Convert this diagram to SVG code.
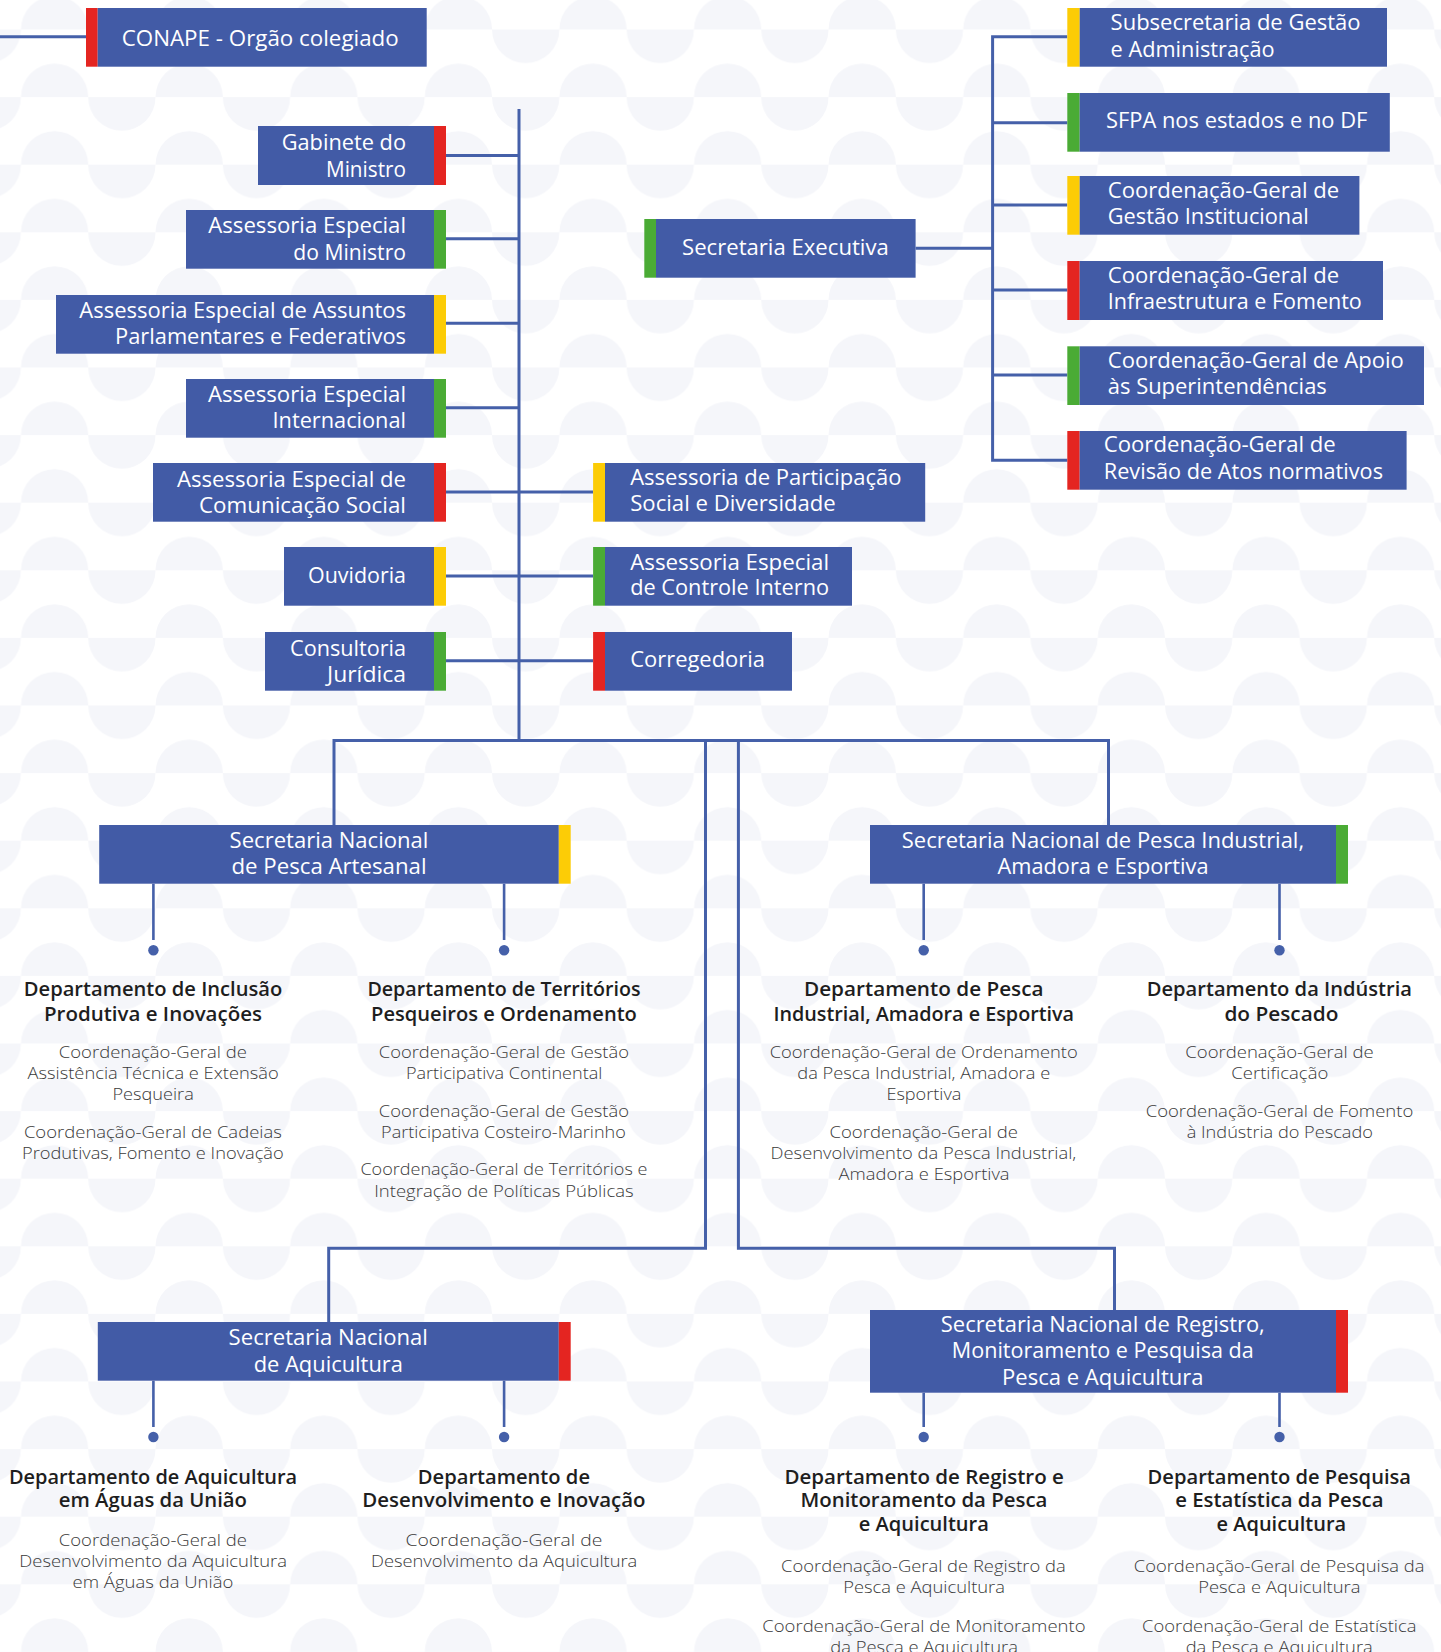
<svg xmlns="http://www.w3.org/2000/svg" width="1441" height="1652" viewBox="0 0 1441 1652">
<defs>
<style>
.box{fill:#425ba6}
.r{fill:#e42521}
.g{fill:#4aab35}
.y{fill:#fccc06}
.bt{font-family:"Open Sans","Liberation Sans",sans-serif;font-size:21.5px;font-weight:500;fill:#ffffff}
.dt{font-family:"Open Sans","Liberation Sans",sans-serif;font-size:20px;font-weight:600;fill:#1e1e1e}
.ct{font-family:"Open Sans","Liberation Sans",sans-serif;font-size:17px;font-weight:300;fill:#3a3a3a}
.ln{fill:none;stroke:#4560a9;stroke-width:3}
.dr{fill:none;stroke:#4560a9;stroke-width:2.6}
.dot{fill:#4560a9}
</style>
<!-- scalloped background: half-discs above and below each band line -->
<pattern id="bg" patternUnits="userSpaceOnUse" x="88.25" y="29.5" width="134.6" height="67.6">
<path d="M0,0 A33.65,33.65 0 0 0 67.3,0 Z" fill="#f5f6fa"/>
<path d="M67.3,67.6 A33.65,33.65 0 0 1 134.6,67.6 Z" fill="#f5f6fa"/>
</pattern>
</defs>
<rect width="1441" height="1652" fill="#ffffff"/>
<rect width="1441" height="1652" fill="url(#bg)"/>

<g id="connectors">
<path class="ln" d="M0,36.7 H86"/>
<path class="ln" d="M519,109 V740.5"/>
<path class="ln" d="M446,155.5 H519 M446,238.7 H519 M446,323.3 H519 M446,407.7 H519"/>
<path class="ln" d="M446,492 H593 M446,576 H593 M446,660.7 H593"/>
<path class="ln" d="M915.6,248.3 H992.6"/>
<path class="ln" d="M1067.3,36.7 H992.6 V460.3 H1067.3 M992.6,122.7 H1067.3 M992.6,205 H1067.3 M992.6,290 H1067.3 M992.6,375 H1067.3"/>
<path class="ln" d="M334,825 V740.5 H1108.5 V825"/>
<path class="ln" d="M705.5,740.5 V1248.3 H328.7 V1322"/>
<path class="ln" d="M738.4,740.5 V1248.3 H1114.5 V1310"/>
<path class="dr" d="M153.4,883.7 V940 M504.1,883.7 V940 M923.7,883.7 V940 M1279.5,883.7 V940"/>
<path class="dr" d="M153.4,1380.7 V1427 M504.1,1380.7 V1427 M923.7,1392.7 V1427 M1279.5,1392.7 V1427"/>
<circle class="dot" cx="153.4" cy="950.3" r="5.2"/>
<circle class="dot" cx="504.1" cy="950.3" r="5.2"/>
<circle class="dot" cx="923.7" cy="950.3" r="5.2"/>
<circle class="dot" cx="1279.5" cy="950.3" r="5.2"/>
<circle class="dot" cx="153.4" cy="1437" r="5.2"/>
<circle class="dot" cx="504.1" cy="1437" r="5.2"/>
<circle class="dot" cx="923.7" cy="1437" r="5.2"/>
<circle class="dot" cx="1279.5" cy="1437" r="5.2"/>
</g>

<g id="conape">
<rect class="r" x="86" y="8" width="11.7" height="58.7"/>
<rect class="box" x="97.7" y="8" width="329" height="58.7"/>
<text class="bt" x="121.7" y="45.7" textLength="277" lengthAdjust="spacingAndGlyphs" style="font-size:22.5px">CONAPE - Orgão colegiado</text>
</g>

<g id="gabinete">
<rect class="box" x="258" y="126" width="176" height="59"/>
<rect class="r" x="434" y="126" width="12" height="59"/>
<text class="bt" x="281.7" y="150" textLength="124.3" lengthAdjust="spacingAndGlyphs">Gabinete do</text>
<text class="bt" x="326" y="176.7" textLength="80" lengthAdjust="spacingAndGlyphs">Ministro</text>
</g>

<g id="assessoria-ministro">
<rect class="box" x="186" y="210" width="248" height="58.7"/>
<rect class="g" x="434" y="210" width="12" height="58.7"/>
<text class="bt" x="208.3" y="233.3" textLength="197.7" lengthAdjust="spacingAndGlyphs">Assessoria Especial</text>
<text class="bt" x="293.3" y="260" textLength="112.7" lengthAdjust="spacingAndGlyphs">do Ministro</text>
</g>

<g id="assessoria-parlamentares">
<rect class="box" x="56" y="295" width="378" height="58.7"/>
<rect class="y" x="434" y="295" width="12" height="58.7"/>
<text class="bt" x="79.3" y="318.3" textLength="326.7" lengthAdjust="spacingAndGlyphs">Assessoria Especial de Assuntos</text>
<text class="bt" x="115" y="344.3" textLength="291" lengthAdjust="spacingAndGlyphs">Parlamentares e Federativos</text>
</g>

<g id="assessoria-internacional">
<rect class="box" x="186" y="379" width="248" height="58.7"/>
<rect class="g" x="434" y="379" width="12" height="58.7"/>
<text class="bt" x="208" y="402.3" textLength="198" lengthAdjust="spacingAndGlyphs">Assessoria Especial</text>
<text class="bt" x="272.5" y="428.3" textLength="133.5" lengthAdjust="spacingAndGlyphs">Internacional</text>
</g>

<g id="assessoria-comunicacao">
<rect class="box" x="153" y="463" width="281" height="58.7"/>
<rect class="r" x="434" y="463" width="12" height="58.7"/>
<text class="bt" x="177" y="486.7" textLength="229" lengthAdjust="spacingAndGlyphs">Assessoria Especial de</text>
<text class="bt" x="199" y="512.7" textLength="207" lengthAdjust="spacingAndGlyphs">Comunicação Social</text>
</g>

<g id="ouvidoria">
<rect class="box" x="284" y="547" width="150" height="58.7"/>
<rect class="y" x="434" y="547" width="12" height="58.7"/>
<text class="bt" x="308" y="583.3" textLength="98" lengthAdjust="spacingAndGlyphs">Ouvidoria</text>
</g>

<g id="consultoria">
<rect class="box" x="265" y="632" width="169" height="58.7"/>
<rect class="g" x="434" y="632" width="12" height="58.7"/>
<text class="bt" x="290" y="655.7" textLength="116" lengthAdjust="spacingAndGlyphs">Consultoria</text>
<text class="bt" x="327" y="682.3" textLength="79" lengthAdjust="spacingAndGlyphs">Jurídica</text>
</g>

<g id="participacao">
<rect class="y" x="593.1" y="463" width="11.9" height="58.7"/>
<rect class="box" x="605" y="463" width="320.2" height="58.7"/>
<text class="bt" x="630.2" y="484.5" textLength="271.3" lengthAdjust="spacingAndGlyphs">Assessoria de Participação</text>
<text class="bt" x="630.2" y="510.7" textLength="205.6" lengthAdjust="spacingAndGlyphs">Social e Diversidade</text>
</g>

<g id="controle-interno">
<rect class="g" x="593.1" y="547" width="11.9" height="58.7"/>
<rect class="box" x="605" y="547" width="247" height="58.7"/>
<text class="bt" x="630.2" y="569.5" textLength="198.9" lengthAdjust="spacingAndGlyphs">Assessoria Especial</text>
<text class="bt" x="630.2" y="595" textLength="198.9" lengthAdjust="spacingAndGlyphs">de Controle Interno</text>
</g>

<g id="corregedoria">
<rect class="r" x="593.1" y="632" width="11.9" height="58.7"/>
<rect class="box" x="605" y="632" width="187" height="58.7"/>
<text class="bt" x="630.2" y="666.7" textLength="134.8" lengthAdjust="spacingAndGlyphs">Corregedoria</text>
</g>

<g id="secretaria-executiva">
<rect class="g" x="644.3" y="219" width="11.7" height="58.7"/>
<rect class="box" x="656" y="219" width="259.6" height="58.7"/>
<text class="bt" x="682" y="255" textLength="206.8" lengthAdjust="spacingAndGlyphs">Secretaria Executiva</text>
</g>

<g id="subsecretaria">
<rect class="y" x="1067.3" y="8" width="12.4" height="58.7"/>
<rect class="box" x="1079.7" y="8" width="307.3" height="58.7"/>
<text class="bt" x="1110.6" y="29.5" textLength="250" lengthAdjust="spacingAndGlyphs">Subsecretaria de Gestão</text>
<text class="bt" x="1110.6" y="56.5" textLength="164" lengthAdjust="spacingAndGlyphs">e Administração</text>
</g>

<g id="sfpa">
<rect class="g" x="1067.3" y="93" width="12.4" height="58.7"/>
<rect class="box" x="1079.7" y="93" width="310.1" height="58.7"/>
<text class="bt" x="1106" y="127.7" textLength="261.3" lengthAdjust="spacingAndGlyphs">SFPA nos estados e no DF</text>
</g>

<g id="cg-gestao-institucional">
<rect class="y" x="1067.3" y="176" width="12.4" height="58.7"/>
<rect class="box" x="1079.7" y="176" width="279.7" height="58.7"/>
<text class="bt" x="1107.8" y="197.7" textLength="231.4" lengthAdjust="spacingAndGlyphs">Coordenação-Geral de</text>
<text class="bt" x="1107.8" y="224.3" textLength="201" lengthAdjust="spacingAndGlyphs">Gestão Institucional</text>
</g>

<g id="cg-infraestrutura">
<rect class="r" x="1067.3" y="261" width="12.4" height="59"/>
<rect class="box" x="1079.7" y="261" width="303.3" height="59"/>
<text class="bt" x="1107.8" y="282.7" textLength="231.4" lengthAdjust="spacingAndGlyphs">Coordenação-Geral de</text>
<text class="bt" x="1107.8" y="309" textLength="254" lengthAdjust="spacingAndGlyphs">Infraestrutura e Fomento</text>
</g>

<g id="cg-apoio">
<rect class="g" x="1067.3" y="346.3" width="12.4" height="58.7"/>
<rect class="box" x="1079.7" y="346.3" width="344.3" height="58.7"/>
<text class="bt" x="1107.8" y="367.5" textLength="296" lengthAdjust="spacingAndGlyphs">Coordenação-Geral de Apoio</text>
<text class="bt" x="1107.8" y="394" textLength="219" lengthAdjust="spacingAndGlyphs">às Superintendências</text>
</g>

<g id="cg-revisao">
<rect class="r" x="1067.3" y="431" width="12.4" height="58.7"/>
<rect class="box" x="1079.7" y="431" width="326.9" height="58.7"/>
<text class="bt" x="1103.8" y="452" textLength="232" lengthAdjust="spacingAndGlyphs">Coordenação-Geral de</text>
<text class="bt" x="1103.8" y="479" textLength="279.2" lengthAdjust="spacingAndGlyphs">Revisão de Atos normativos</text>
</g>

<g id="sn-pesca-artesanal">
<rect class="box" x="99.2" y="825" width="459.6" height="58.7"/>
<rect class="y" x="558.8" y="825" width="11.9" height="58.7"/>
<text class="bt" x="229.6" y="847.7" textLength="198.8" lengthAdjust="spacingAndGlyphs">Secretaria Nacional</text>
<text class="bt" x="231.5" y="874" textLength="195" lengthAdjust="spacingAndGlyphs">de Pesca Artesanal</text>
</g>

<g id="dep-inclusao">
<text class="dt" x="23.8" y="996" textLength="258.5" lengthAdjust="spacingAndGlyphs">Departamento de Inclusão</text>
<text class="dt" x="44" y="1020.5" textLength="218" lengthAdjust="spacingAndGlyphs">Produtiva  e Inovações</text>
<text class="ct" x="58.8" y="1058" textLength="188.2" lengthAdjust="spacingAndGlyphs">Coordenação-Geral de</text>
<text class="ct" x="27.6" y="1079.2" textLength="251.1" lengthAdjust="spacingAndGlyphs">Assistência Técnica e Extensão</text>
<text class="ct" x="112.5" y="1100.2" textLength="81.3" lengthAdjust="spacingAndGlyphs">Pesqueira</text>
<text class="ct" x="23.9" y="1138" textLength="258" lengthAdjust="spacingAndGlyphs">Coordenação-Geral de Cadeias</text>
<text class="ct" x="22" y="1159.2" textLength="261.7" lengthAdjust="spacingAndGlyphs">Produtivas, Fomento e Inovação</text>
</g>

<g id="dep-territorios">
<text class="dt" x="367.4" y="996" textLength="273.2" lengthAdjust="spacingAndGlyphs">Departamento de Territórios</text>
<text class="dt" x="371.1" y="1020.5" textLength="265.8" lengthAdjust="spacingAndGlyphs">Pesqueiros e Ordenamento</text>
<text class="ct" x="378.8" y="1058" textLength="250.2" lengthAdjust="spacingAndGlyphs">Coordenação-Geral de Gestão</text>
<text class="ct" x="405.9" y="1079.2" textLength="196.5" lengthAdjust="spacingAndGlyphs">Participativa Continental</text>
<text class="ct" x="378.8" y="1117" textLength="250.2" lengthAdjust="spacingAndGlyphs">Coordenação-Geral de Gestão</text>
<text class="ct" x="381.1" y="1138.2" textLength="244.7" lengthAdjust="spacingAndGlyphs">Participativa Costeiro-Marinho</text>
<text class="ct" x="360.4" y="1175.3" textLength="287" lengthAdjust="spacingAndGlyphs">Coordenação-Geral de Territórios e</text>
<text class="ct" x="374.2" y="1196.7" textLength="259.4" lengthAdjust="spacingAndGlyphs">Integração de Políticas Públicas</text>
</g>

<g id="sn-pesca-industrial">
<rect class="box" x="870" y="825" width="466" height="58.7"/>
<rect class="g" x="1336" y="825" width="12" height="58.7"/>
<text class="bt" x="901.8" y="847.7" textLength="402.3" lengthAdjust="spacingAndGlyphs">Secretaria Nacional de Pesca Industrial,</text>
<text class="bt" x="997.5" y="874" textLength="211" lengthAdjust="spacingAndGlyphs">Amadora e Esportiva</text>
</g>

<g id="dep-pesca-industrial">
<text class="dt" x="804" y="996" textLength="239.5" lengthAdjust="spacingAndGlyphs">Departamento de  Pesca</text>
<text class="dt" x="773.4" y="1020.5" textLength="300.7" lengthAdjust="spacingAndGlyphs">Industrial, Amadora e Esportiva</text>
<text class="ct" x="769.7" y="1058" textLength="308" lengthAdjust="spacingAndGlyphs">Coordenação-Geral de Ordenamento</text>
<text class="ct" x="797.3" y="1079.2" textLength="252.9" lengthAdjust="spacingAndGlyphs">da Pesca Industrial, Amadora e</text>
<text class="ct" x="886.4" y="1100.2" textLength="75" lengthAdjust="spacingAndGlyphs">Esportiva</text>
<text class="ct" x="829.5" y="1138" textLength="188.5" lengthAdjust="spacingAndGlyphs">Coordenação-Geral de</text>
<text class="ct" x="770.6" y="1159.2" textLength="305.7" lengthAdjust="spacingAndGlyphs">Desenvolvimento da Pesca Industrial,</text>
<text class="ct" x="838.6" y="1180.2" textLength="171" lengthAdjust="spacingAndGlyphs">Amadora e Esportiva</text>
</g>

<g id="dep-industria">
<text class="dt" x="1146.7" y="996" textLength="265.3" lengthAdjust="spacingAndGlyphs">Departamento  da Indústria</text>
<text class="dt" x="1224.4" y="1020.5" textLength="114" lengthAdjust="spacingAndGlyphs">do Pescado</text>
<text class="ct" x="1185.3" y="1058" textLength="188.5" lengthAdjust="spacingAndGlyphs">Coordenação-Geral de</text>
<text class="ct" x="1231.3" y="1079.2" textLength="97" lengthAdjust="spacingAndGlyphs">Certificação</text>
<text class="ct" x="1145.7" y="1117" textLength="267.6" lengthAdjust="spacingAndGlyphs">Coordenação-Geral de Fomento</text>
<text class="ct" x="1186.7" y="1138.2" textLength="186.2" lengthAdjust="spacingAndGlyphs">à Indústria do Pescado</text>
</g>

<g id="sn-aquicultura">
<rect class="box" x="97.8" y="1322" width="461" height="58.7"/>
<rect class="r" x="558.8" y="1322" width="11.9" height="58.7"/>
<text class="bt" x="228.6" y="1345" textLength="199.3" lengthAdjust="spacingAndGlyphs">Secretaria Nacional</text>
<text class="bt" x="253.7" y="1371.7" textLength="149.2" lengthAdjust="spacingAndGlyphs">de Aquicultura</text>
</g>

<g id="dep-aquicultura-uniao">
<text class="dt" x="8.9" y="1483.5" textLength="288.3" lengthAdjust="spacingAndGlyphs">Departamento de Aquicultura</text>
<text class="dt" x="58.8" y="1506.8" textLength="188.2" lengthAdjust="spacingAndGlyphs">em Águas da União</text>
<text class="ct" x="58.8" y="1545.5" textLength="188.2" lengthAdjust="spacingAndGlyphs">Coordenação-Geral de</text>
<text class="ct" x="19.3" y="1566.7" textLength="267.7" lengthAdjust="spacingAndGlyphs">Desenvolvimento da Aquicultura</text>
<text class="ct" x="72.6" y="1587.7" textLength="160.7" lengthAdjust="spacingAndGlyphs">em Águas da União</text>
</g>

<g id="dep-desenvolvimento">
<text class="dt" x="417.8" y="1483.5" textLength="172.2" lengthAdjust="spacingAndGlyphs">Departamento de</text>
<text class="dt" x="362.3" y="1506.8" textLength="283.3" lengthAdjust="spacingAndGlyphs">Desenvolvimento  e Inovação</text>
<text class="ct" x="405.4" y="1545.5" textLength="197" lengthAdjust="spacingAndGlyphs">Coordenação-Geral   de</text>
<text class="ct" x="371" y="1566.7" textLength="266.3" lengthAdjust="spacingAndGlyphs">Desenvolvimento da Aquicultura</text>
</g>

<g id="sn-registro">
<rect class="box" x="870" y="1310" width="466" height="82.7"/>
<rect class="r" x="1336" y="1310" width="12" height="82.7"/>
<text class="bt" x="940.8" y="1331.7" textLength="324" lengthAdjust="spacingAndGlyphs">Secretaria Nacional de Registro,</text>
<text class="bt" x="951.8" y="1358.3" textLength="302" lengthAdjust="spacingAndGlyphs">Monitoramento e Pesquisa da</text>
<text class="bt" x="1002.1" y="1385" textLength="201.4" lengthAdjust="spacingAndGlyphs">Pesca e Aquicultura</text>
</g>

<g id="dep-registro">
<text class="dt" x="784.4" y="1483.5" textLength="279.5" lengthAdjust="spacingAndGlyphs">Departamento de  Registro e</text>
<text class="dt" x="800.5" y="1506.8" textLength="246.9" lengthAdjust="spacingAndGlyphs">Monitoramento  da Pesca</text>
<text class="dt" x="858.8" y="1530.6" textLength="130.1" lengthAdjust="spacingAndGlyphs">e Aquicultura</text>
<text class="ct" x="781.1" y="1572.2" textLength="284.6" lengthAdjust="spacingAndGlyphs">Coordenação-Geral de Registro da</text>
<text class="ct" x="843.2" y="1593.2" textLength="161.8" lengthAdjust="spacingAndGlyphs">Pesca e Aquicultura</text>
<text class="ct" x="762.3" y="1631.5" textLength="323.2" lengthAdjust="spacingAndGlyphs">Coordenação-Geral  de Monitoramento</text>
<text class="ct" x="830.3" y="1652.5" textLength="187.6" lengthAdjust="spacingAndGlyphs">da Pesca e Aquicultura</text>
</g>

<g id="dep-pesquisa">
<text class="dt" x="1147.6" y="1483.5" textLength="263.4" lengthAdjust="spacingAndGlyphs">Departamento de Pesquisa</text>
<text class="dt" x="1175.2" y="1506.8" textLength="208.3" lengthAdjust="spacingAndGlyphs">e Estatística da Pesca</text>
<text class="dt" x="1216.5" y="1530.6" textLength="129.7" lengthAdjust="spacingAndGlyphs">e Aquicultura</text>
<text class="ct" x="1133.8" y="1572.2" textLength="290.6" lengthAdjust="spacingAndGlyphs">Coordenação-Geral de Pesquisa da</text>
<text class="ct" x="1198.2" y="1593.2" textLength="162.3" lengthAdjust="spacingAndGlyphs">Pesca e Aquicultura</text>
<text class="ct" x="1142" y="1631.5" textLength="274.5" lengthAdjust="spacingAndGlyphs">Coordenação-Geral de Estatística</text>
<text class="ct" x="1185.7" y="1652.5" textLength="187.1" lengthAdjust="spacingAndGlyphs">da Pesca e Aquicultura</text>
</g>
</svg>
